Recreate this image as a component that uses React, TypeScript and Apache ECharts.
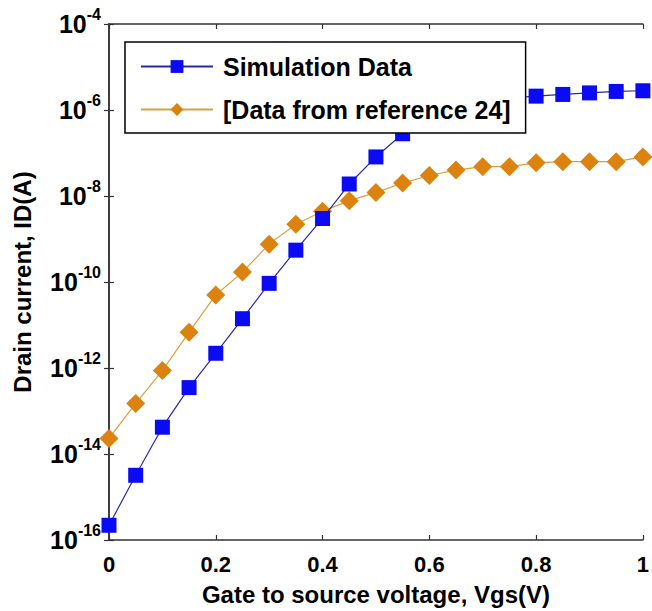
import React, { useEffect, useRef } from "react";
import * as echarts from "echarts";

const vgs = [0, 0.05, 0.1, 0.15, 0.2, 0.25, 0.3, 0.35, 0.4, 0.45, 0.5, 0.55, 0.6, 0.65, 0.7, 0.75, 0.8, 0.85, 0.9, 0.95, 1.0];
const simulationCurrent = [
  2.2e-16, 3.2e-15, 4.2e-14, 3.5e-13, 2.2e-12, 1.4e-11, 9.3e-11, 5.5e-10, 3.0e-9, 1.9e-8, 8.1e-8,
  2.8e-7, 5.9e-7, 1.1e-6, 1.6e-6, 1.9e-6, 2.1e-6, 2.3e-6, 2.5e-6, 2.7e-6, 2.8e-6,
];
const referenceCurrent = [
  2.3e-14, 1.5e-13, 8.7e-13, 6.8e-12, 5.0e-11, 1.7e-10, 7.6e-10, 2.2e-9, 4.4e-9, 7.8e-9, 1.2e-8,
  2.0e-8, 3.0e-8, 4.0e-8, 4.8e-8, 4.8e-8, 5.9e-8, 6.3e-8, 6.3e-8, 6.3e-8, 8.1e-8,
];
const seriesNames = ["Simulation Data", "[Data from reference 24]"];
const xTicks = { min: 0, max: 1, interval: 0.2 };
const yExponents = { min: -16, max: -4, interval: 2 };
const xTitle = "Gate to source voltage, Vgs(V)";
const yTitle = "Drain current, ID(A)";

const FONT = "'Liberation Sans', Arial, sans-serif";

export default function App() {
  const ref = useRef<HTMLDivElement>(null);
  useEffect(() => {
    if (!ref.current) return;
    const chart = echarts.init(ref.current, null, { renderer: "svg" });
    const axisLine = { show: true, lineStyle: { color: "#333", width: 1.5 } };
    const tick = { show: true, inside: true, length: 5, lineStyle: { color: "#333", width: 1.2 } };
    chart.setOption({
      animation: false,
      backgroundColor: "#fff",
      grid: { left: 109, top: 24, right: 5, bottom: 71, containLabel: false },
      legend: {
        orient: "vertical",
        left: 125,
        top: 42,
        z: 10,
        backgroundColor: "#fff",
        borderColor: "#000",
        borderWidth: 1.5,
        borderRadius: 0,
        padding: [12, 15, 11, 15],
        itemWidth: 72,
        itemHeight: 16,
        itemGap: 18,
        textStyle: { fontFamily: FONT, fontWeight: "bold", fontSize: 25, color: "#000", padding: [0, 0, 0, 5] },
        data: seriesNames,
      },
      xAxis: [
        {
          type: "value",
          ...xTicks,
          axisLine,
          axisTick: tick,
          splitLine: { show: false },
          axisLabel: {
            margin: 13,
            fontFamily: FONT,
            fontWeight: "bold",
            fontSize: 22,
            color: "#000",
            formatter: (v: number) => String(Math.round(v * 10) / 10),
          },
          name: xTitle,
          nameLocation: "middle",
          nameGap: 42,
          nameTextStyle: { fontFamily: FONT, fontWeight: "bold", fontSize: 24, color: "#000" },
        },
        {
          type: "value",
          position: "top",
          ...xTicks,
          axisLine,
          axisTick: tick,
          splitLine: { show: false },
          axisLabel: { show: false },
        },
      ],
      yAxis: [
        {
          type: "value",
          ...yExponents,
          axisLine,
          axisTick: tick,
          splitLine: { show: false },
          axisLabel: {
            margin: 8,
            color: "#000",
            formatter: (v: number) => `{b|10}{s|${v}}`,
            rich: {
              b: { fontFamily: FONT, fontWeight: "bold", fontSize: 25, color: "#000" },
              s: { fontFamily: FONT, fontWeight: "bold", fontSize: 16, color: "#000", padding: [0, 0, 20, 0] },
            },
          },
          name: yTitle,
          nameLocation: "middle",
          nameGap: 75,
          nameTextStyle: { fontFamily: FONT, fontWeight: "bold", fontSize: 24, color: "#000" },
        },
        {
          type: "value",
          position: "right",
          ...yExponents,
          axisLine,
          axisTick: tick,
          splitLine: { show: false },
          axisLabel: { show: false },
        },
      ],
      series: [
        {
          name: seriesNames[0],
          type: "line",
          data: vgs.map((x, i) => [x, Math.log10(simulationCurrent[i])]),
          symbol: "rect",
          symbolSize: 15,
          itemStyle: { color: "#0a0af5" },
          lineStyle: { color: "#2a2aa0", width: 1.2 },
          z: 3,
        },
        {
          name: seriesNames[1],
          type: "line",
          data: vgs.map((x, i) => [x, Math.log10(referenceCurrent[i])]),
          symbol: "diamond",
          symbolSize: 19,
          itemStyle: { color: "#dc820f" },
          lineStyle: { color: "#d9a040", width: 1.2 },
          z: 2,
        },
      ],
    });
    return () => chart.dispose();
  }, []);
  return <div ref={ref} style={{ width: 652, height: 611, position: "absolute", left: 0, top: 0 }} />;
}
